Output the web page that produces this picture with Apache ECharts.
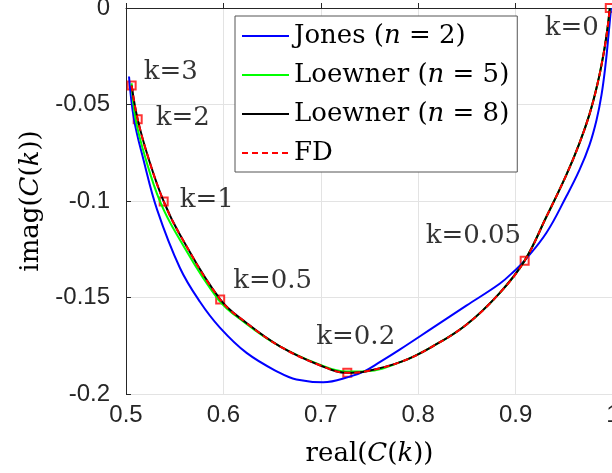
<!DOCTYPE html>
<html>
<head>
<meta charset="utf-8">
<script src="https://cdn.jsdelivr.net/npm/echarts@6/dist/echarts.min.js"></script>
<style>html,body{margin:0;padding:0;background:#fff;}#c{width:612px;height:473px;}</style>
</head>
<body>
<div id="c"></div>
<script>
// Jones (n = 2)
const jonesReal = [0.5031, 0.5082, 0.518, 0.532, 0.5554, 0.5759, 0.5964, 0.6238, 0.658, 0.675, 0.7024, 0.7297, 0.7451, 0.7605, 0.781, 0.8152, 0.8494, 0.8836, 0.899, 0.9092, 0.9315, 0.952, 0.9656, 0.9759, 0.9831, 0.9882, 0.9923, 0.9954, 0.998];
const jonesImag = [-0.0355, -0.0576, -0.0787, -0.1046, -0.1347, -0.1522, -0.1656, -0.1787, -0.1891, -0.1925, -0.1939, -0.1910, -0.1881, -0.1835, -0.1770, -0.1656, -0.1542, -0.1429, -0.1361, -0.1309, -0.1166, -0.0977, -0.0839, -0.0709, -0.0580, -0.0450, -0.0295, -0.0140, 0.0];
// Loewner (n = 5)
const loew5Real = [0.5058, 0.5099, 0.5205, 0.5349, 0.5523, 0.5944, 0.622, 0.657, 0.699, 0.7264, 0.7469, 0.7836, 0.8149, 0.8494, 0.8836, 0.9093, 0.9315, 0.952, 0.9656, 0.9759, 0.9841, 0.9903, 0.9944, 0.9967];
const loew5Imag = [-0.0390, -0.0577, -0.0787, -0.1002, -0.1175, -0.1508, -0.1630, -0.1750, -0.1848, -0.1884, -0.1882, -0.1831, -0.1753, -0.1641, -0.1477, -0.1309, -0.1083, -0.0866, -0.0700, -0.0550, -0.0393, -0.0238, -0.0103, 0.0];
// Loewner (n = 8)
const loew8Real = [0.5058, 0.512, 0.5236, 0.5387, 0.5554, 0.5967, 0.6238, 0.658, 0.699, 0.7272, 0.7469, 0.7836, 0.8149, 0.8494, 0.8836, 0.9093, 0.9315, 0.952, 0.9656, 0.9759, 0.9841, 0.9903, 0.9944, 0.9967];
const loew8Imag = [-0.0402, -0.0577, -0.0787, -0.1002, -0.1175, -0.1510, -0.1632, -0.1753, -0.1851, -0.1890, -0.1882, -0.1831, -0.1753, -0.1641, -0.1477, -0.1309, -0.1083, -0.0866, -0.0700, -0.0550, -0.0393, -0.0238, -0.0103, 0.0];
// FD
const fdReal = [0.5058, 0.512, 0.5236, 0.5387, 0.5554, 0.5967, 0.6238, 0.658, 0.699, 0.7272, 0.7469, 0.7836, 0.8149, 0.8494, 0.8836, 0.9093, 0.9315, 0.952, 0.9656, 0.9759, 0.9841, 0.9903, 0.9944, 0.9967];
const fdImag = [-0.0402, -0.0577, -0.0787, -0.1002, -0.1175, -0.1510, -0.1632, -0.1753, -0.1851, -0.1890, -0.1882, -0.1831, -0.1753, -0.1641, -0.1477, -0.1309, -0.1083, -0.0866, -0.0700, -0.0550, -0.0393, -0.0238, -0.0103, 0.0];
// FD sample points at selected k
const kLabels = ['k=3', 'k=2', 'k=1', 'k=0.5', 'k=0.2', 'k=0.05', 'k=0'];
const kReal = [0.5058, 0.512, 0.5387, 0.5967, 0.7272, 0.9093, 0.9967];
const kImag = [-0.0402, -0.0577, -0.1002, -0.1510, -0.1890, -0.1309, 0.0];
// axes
const xTicks = [0.5, 0.6, 0.7, 0.8, 0.9, 1];
const yTicks = [-0.2, -0.15, -0.1, -0.05, 0];
const seriesNames = ['Jones (n = 2)', 'Loewner (n = 5)', 'Loewner (n = 8)', 'FD'];

const zip = (a, b) => a.map((v, i) => [v, b[i]]);
const labelOffsets = [[12, -13], [18, -1], [16, -1], [13, -18], [-31, -36], [-99, -24], [-65, 20]];
const legendRich = {
  'Jones (n = 2)': '{r|Jones (}{i|n}{r| = 2)}',
  'Loewner (n = 5)': '{r|Loewner (}{i|n}{r| = 5)}',
  'Loewner (n = 8)': '{r|Loewner (}{i|n}{r| = 8)}',
  'FD': '{r|FD}'
};
const SERIF = 'DejaVu Serif';
const richStyles = {
  r: {fontFamily: SERIF, fontSize: 26, color: '#000'},
  i: {fontFamily: SERIF, fontSize: 26, fontStyle: 'italic', color: '#000'}
};
const lineBase = {type: 'line', showSymbol: false, symbol: 'none', smooth: 0.4};

const chart = echarts.init(document.getElementById('c'), null, {renderer: 'canvas'});
chart.setOption({
  animation: false,
  backgroundColor: '#fff',
  grid: {left: 126, top: 8, width: 487, height: 386, containLabel: false, outerBoundsMode: 'none'},
  xAxis: {
    type: 'value', min: xTicks[0], max: xTicks[xTicks.length - 1], interval: 0.1,
    name: '{r|real(}{i|C}{r|(}{i|k}{r|))}', nameLocation: 'middle', nameGap: 47,
    nameTextStyle: {rich: richStyles},
    axisLine: {show: true, lineStyle: {color: '#262626', width: 1}},
    axisTick: {show: true, inside: true, length: 5, lineStyle: {color: '#262626'}},
    axisLabel: {fontFamily: 'Liberation Sans', fontSize: 24, color: '#262626', margin: 9, showMaxLabel: true},
    splitLine: {show: true, lineStyle: {color: '#e3e3e3', width: 1}}
  },
  yAxis: {
    type: 'value', min: yTicks[0], max: yTicks[yTicks.length - 1], interval: 0.05,
    name: '{r|imag(}{i|C}{r|(}{i|k}{r|))}', nameLocation: 'middle', nameGap: 82,
    nameTextStyle: {rich: richStyles},
    axisLine: {show: true, lineStyle: {color: '#262626', width: 1}},
    axisTick: {show: true, inside: true, length: 5, lineStyle: {color: '#262626'}},
    axisLabel: {fontFamily: 'Liberation Sans', fontSize: 24, color: '#262626', margin: 16},
    splitLine: {show: true, lineStyle: {color: '#e3e3e3', width: 1}}
  },
  legend: {
    show: true, orient: 'vertical', left: 235, top: 16,
    padding: [5, 8, 4, 6], itemGap: 9, itemWidth: 47, itemHeight: 14,
    backgroundColor: '#fff', borderColor: '#555', borderWidth: 1, borderRadius: 0,
    itemStyle: {opacity: 0},
    data: seriesNames,
    formatter: n => legendRich[n],
    textStyle: {fontFamily: SERIF, fontSize: 26, lineHeight: 30, rich: richStyles}
  },
  series: [
    Object.assign({name: seriesNames[0], data: zip(jonesReal, jonesImag),
     lineStyle: {color: '#0000ff', width: 2}, itemStyle: {color: '#0000ff'}}, lineBase),
    Object.assign({name: seriesNames[1], data: zip(loew5Real, loew5Imag),
     lineStyle: {color: '#00ff00', width: 2}, itemStyle: {color: '#00ff00'}}, lineBase),
    Object.assign({name: seriesNames[2], data: zip(loew8Real, loew8Imag),
     lineStyle: {color: '#000000', width: 2}, itemStyle: {color: '#000000'}}, lineBase),
    Object.assign({name: seriesNames[3], data: zip(fdReal, fdImag),
     lineStyle: {color: '#ff0000', width: 2, type: [6, 4]}, itemStyle: {color: '#ff0000'}}, lineBase),
    {name: 'FD points', type: 'scatter', clip: false, symbol: 'rect', symbolSize: 8,
     itemStyle: {color: 'rgba(255,255,255,0)', borderColor: '#ff0000', borderWidth: 2},
     data: kReal.map((x, i) => ({
       value: [x, kImag[i]],
       label: {show: true, formatter: kLabels[i], position: 'inside', offset: labelOffsets[i], align: 'left', verticalAlign: 'middle',
               fontFamily: SERIF, fontSize: 26, color: '#000'}
     }))}
  ]
});
</script>
</body>
</html>
